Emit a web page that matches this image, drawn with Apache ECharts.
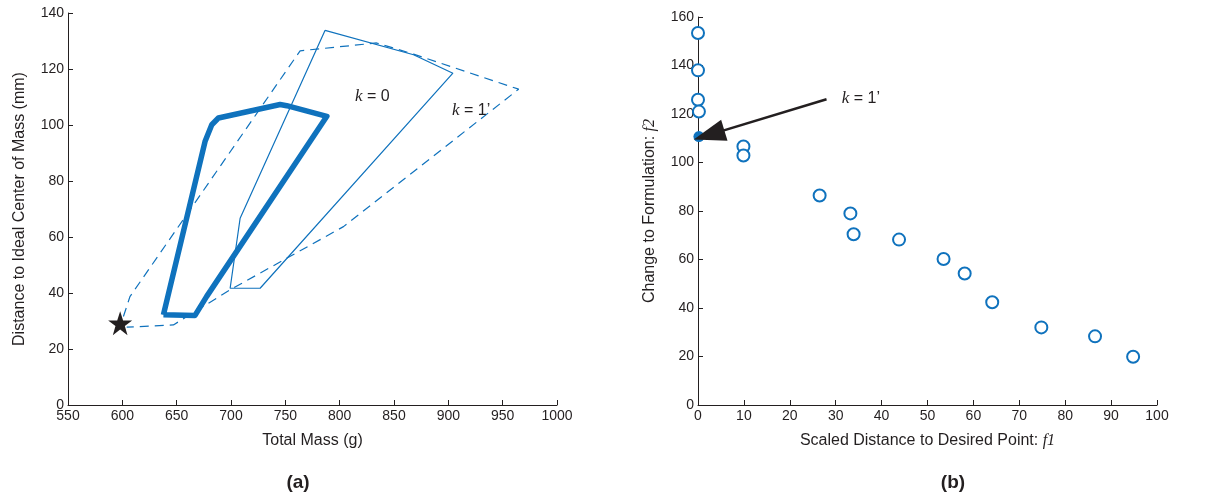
<!DOCTYPE html>
<html>
<head>
<meta charset="utf-8">
<script src="https://cdn.jsdelivr.net/npm/echarts@6/dist/echarts.min.js"></script>
<style>
  html, body { margin: 0; padding: 0; background: #fff; }
  #chart { width: 1214px; height: 497px; }
</style>
</head>
<body>
<div id="chart"></div>
<script>
// (a) design space outlines, [total mass, distance]
const thickOutline = [[637.8, 32.2], [666.9, 32.0], [677.5, 38.7], [788.2, 103.1], [751.3, 106.9],
  [745.2, 107.3], [688.4, 102.5], [682.3, 100.1], [676.1, 94.1], [637.8, 32.2]];
const thinOutline = [[786.6, 133.8], [868, 125.1], [904.2, 118.5], [726.8, 41.7], [699.2, 41.7],
  [708.4, 66.7], [786.6, 133.8]];
const dashedOutline = [[601, 31.6], [607, 38.7], [763.6, 126.5], [834, 129.3], [868, 125.3],
  [964.7, 112.8], [803.5, 63.7], [699, 41.1], [647, 28.6], [604, 27.8]];
const idealPoint = [[598, 29.2]];

// (b) pareto points, [f1, f2]
const f1Values = [0, 0, 0, 0.2, 9.9, 9.9, 26.5, 33.2, 33.9, 43.8, 53.5, 58.1, 64.1, 74.8, 86.5, 94.8];
const f2Values = [153.4, 138, 125.9, 121, 106.6, 102.9, 86.4, 79, 70.4, 68.2, 60.2, 54.2, 42.4, 32, 28.3, 19.9];
const chosenPoint = [[0.2, 110.7]];
const arrowFrom = [28, 126.1];
const arrowTo = [2.4, 111.4];

const blue = "#0f72bd";
const ink = "#231f20";
const tickFont = { color: ink, fontSize: 14, fontFamily: "Liberation Sans" };
const nameFont = {
  color: ink, fontSize: 16, fontFamily: "Liberation Sans",
  rich: { it: { fontStyle: "italic", fontFamily: "Liberation Serif", fontSize: 16, color: ink } }
};
const star = "path://M50,0 L61.8,35.1 L98.1,35.1 L68.8,56.8 L79.4,91.9 L50,70.3 L20.6,91.9 L31.2,56.8 L1.9,35.1 L38.2,35.1 Z";

function axisBase(min, max, interval, name, gap) {
  return {
    type: "value", min: min, max: max, interval: interval,
    name: name, nameLocation: "middle", nameGap: gap, nameTextStyle: nameFont,
    axisLine: { show: true, onZero: false, lineStyle: { color: ink, width: 1 } },
    axisTick: { show: true, inside: true, length: 5, lineStyle: { color: ink } },
    axisLabel: Object.assign({ margin: 4, formatter: (v) => String(v) }, tickFont),
    splitLine: { show: false }
  };
}

const pts = f1Values.map((v, i) => [v, f2Values[i]]);
const kRich = {
  k: { fontStyle: "italic", fontFamily: "Liberation Serif", fontSize: 17, color: ink },
  t: { fontFamily: "Liberation Sans", fontSize: 16, color: ink }
};

let chart = echarts.init(document.getElementById("chart"));
chart.setOption({
  animation: false,
  title: [
    { text: "(a)", left: 293, top: 468, textAlign: "center", textStyle: { fontSize: 19, fontWeight: "bold", color: ink, fontFamily: "Liberation Sans" } },
    { text: "(b)", left: 948, top: 468, textAlign: "center", textStyle: { fontSize: 19, fontWeight: "bold", color: ink, fontFamily: "Liberation Sans" } }
  ],
  grid: [
    { left: 68, top: 13, width: 489, height: 392 },
    { left: 698, top: 17, width: 459, height: 388 }
  ],
  xAxis: [
    Object.assign(axisBase(550, 1000, 50, "Total Mass (g)", 28), { gridIndex: 0 }),
    Object.assign(axisBase(0, 100, 10, "Scaled Distance to Desired Point: {it|f1}", 28), { gridIndex: 1 })
  ],
  yAxis: [
    Object.assign(axisBase(0, 140, 20, "Distance to Ideal Center of Mass (mm)", 40), { gridIndex: 0 }),
    Object.assign(axisBase(0, 160, 20, "Change to Formulation: {it|f2}", 40), { gridIndex: 1 })
  ],
  series: [
    {
      type: "line", xAxisIndex: 0, yAxisIndex: 0, data: dashedOutline, showSymbol: false,
      lineStyle: { color: blue, width: 1.2, type: [9, 6] }
    },
    {
      type: "line", xAxisIndex: 0, yAxisIndex: 0, data: thinOutline, showSymbol: false,
      lineStyle: { color: blue, width: 1.2 }
    },
    {
      type: "line", xAxisIndex: 0, yAxisIndex: 0, data: thickOutline, showSymbol: false,
      lineStyle: { color: blue, width: 5.5, join: "round" }
    },
    {
      type: "scatter", xAxisIndex: 0, yAxisIndex: 0, data: idealPoint,
      symbol: star, symbolSize: 24, itemStyle: { color: ink, opacity: 1 },
      markPoint: {
        symbol: "circle", symbolSize: 1, itemStyle: { color: "transparent" },
        label: { show: true, position: "inside", rich: kRich },
        data: [
          { coord: [830, 110], label: { formatter: "{k|k}{t| = 0}" } },
          { coord: [921, 105], label: { formatter: "{k|k}{t| = 1\u2019}" } }
        ]
      }
    },
    {
      type: "scatter", xAxisIndex: 1, yAxisIndex: 1, data: pts,
      symbol: "emptyCircle", symbolSize: 12,
      itemStyle: { color: blue, borderColor: blue, borderWidth: 1.6, opacity: 1 }
    },
    {
      type: "scatter", xAxisIndex: 1, yAxisIndex: 1, data: chosenPoint,
      symbol: "circle", symbolSize: 11, itemStyle: { color: blue, opacity: 1 },
      markLine: {
        silent: true, symbol: ["none", "triangle"], symbolSize: [22, 32],
        lineStyle: { color: ink, width: 2.5, type: "solid", opacity: 1 },
        itemStyle: { color: ink },
        label: { show: false },
        data: [[{ coord: arrowFrom }, { coord: arrowTo }]]
      },
      markPoint: {
        symbol: "circle", symbolSize: 1, itemStyle: { color: "transparent" },
        label: { show: true, position: "inside", rich: kRich },
        data: [{ coord: [35.5, 126.3], label: { formatter: "{k|k}{t| = 1\u2019}" } }]
      }
    }
  ]
});
</script>
</body>
</html>
